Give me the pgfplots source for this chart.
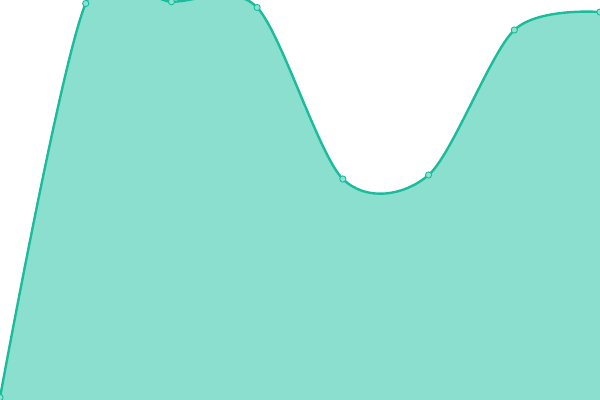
\documentclass[border=0pt]{standalone}
\usepackage{pgfplots}
\pgfplotsset{compat=1.18}
\definecolor{linec}{HTML}{1ABC9C}
\definecolor{fillc}{HTML}{8ADFCF}
\definecolor{markc}{HTML}{8CE3D1}
\begin{document}
\begin{tikzpicture}
\path[use as bounding box] (0,0) rectangle (600bp,400bp);
\begin{axis}[
  at={(0,0)}, anchor=south west,
  scale only axis, width=600bp, height=400bp,
  xmin=0, xmax=7, ymin=0, ymax=400,
  hide axis, clip=true,
]
\addplot[draw=none, fill=fillc, smooth, tension=0.5] coordinates {
 (0,2.5) (1,396.5) (2,398.3) (3,392.5) (4,221) (5,225) (6,370) (7,388)
} \closedcycle;
\addplot[draw=linec, line width=2.4bp, smooth, tension=0.5, mark=*,
  mark size=3.1bp, mark options={fill=markc, draw=linec, line width=0.9bp}]
 coordinates {
 (0,2.5) (1,396.5) (2,398.3) (3,392.5) (4,221) (5,225) (6,370) (7,388)
};
\end{axis}
\end{tikzpicture}
\end{document}
